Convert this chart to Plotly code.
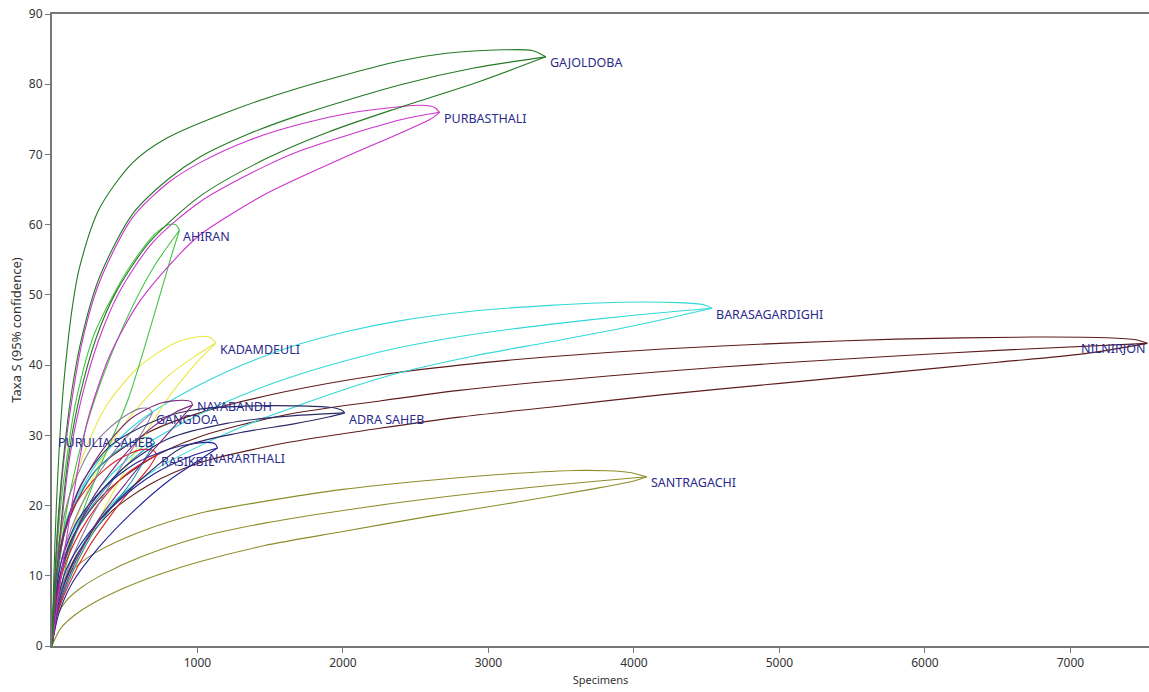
import plotly.graph_objects as go

# ---------------- data ----------------
SITES = ["GAJOLDOBA", "PURBASTHALI", "AHIRAN", "KADAMDEULI", "BARASAGARDIGHI",
         "NILNIRJON", "NAYABANDH", "GANGDOA", "ADRA SAHEB", "PURULIA SAHEB",
         "RASIKBIL", "NARARTHALI", "SANTRAGACHI"]
END_N = [3394, 2664, 876, 1125, 4535, 7528, 966, 690, 2012, 705, 720, 1138, 4088]
END_S = [83.9, 76.0, 59.2, 43.1, 48.1, 43.1, 34.3, 33.2, 33.2, 28.9, 27.2, 28.2, 24.1]

GAJOLDOBA_UPPER = [(0, 0), (10, 8), (30, 20), (71, 35), (106, 42.6), (140, 48.3), (188, 53.8), (326, 62.3),
                   (553, 68.8), (787, 72.3), (1241, 76.3), (1702, 79.5), (2389, 83.3), (2712, 84.4),
                   (3100, 84.9), (3300, 84.8), (3394, 83.9)]
GAJOLDOBA_MID = [(0, 0), (15, 8), (45, 19), (85, 28), (130, 35.5), (200, 43.5), (326, 52.5), (553, 61.5),
                 (800, 66.5), (1014, 69.6), (1350, 72.9), (1702, 75.6), (2389, 79.9), (2900, 82.3), (3394, 83.9)]
GAJOLDOBA_LOWER = [(0, 0), (20, 7), (60, 17), (110, 26.5), (190, 35.5), (306, 44), (443, 50.5), (670, 57.5),
                   (1014, 64), (1462, 69.3), (1900, 73.2), (2389, 76.7), (2940, 80.4), (3394, 83.9)]

PURBASTHALI_UPPER = [(0, 0), (15, 7.5), (45, 18), (90, 28), (140, 35.5), (209, 43.5), (326, 51.8), (553, 61),
                     (800, 66), (1014, 68.8), (1350, 72), (1702, 74.3), (2050, 75.9), (2389, 76.8),
                     (2540, 77.0), (2630, 76.7), (2664, 76.0)]
PURBASTHALI_MID = [(0, 0), (20, 6.5), (60, 16), (115, 26), (200, 35), (320, 43.5), (460, 50.3), (690, 57.4),
                   (1014, 63.2), (1462, 68.3), (1702, 70.5), (2389, 74.9), (2664, 76.0)]
PURBASTHALI_LOWER = [(0, 0), (30, 5), (90, 14), (160, 23), (243, 32), (400, 41.5), (600, 49), (863, 55.5),
                     (1014, 58.5), (1462, 64.3), (2000, 69.5), (2389, 73.0), (2600, 75.0), (2664, 76.0)]

AHIRAN_UPPER = [(0, 0), (20, 9), (60, 20), (110, 28), (166, 35), (292, 44.5), (519, 53.5), (700, 58.5),
                (800, 60), (850, 60), (876, 59.2)]
AHIRAN_MID = [(0, 0), (30, 8), (90, 18), (180, 27), (300, 35.5), (500, 46), (700, 54), (876, 59.2)]
AHIRAN_LOWER = [(0, 0), (40, 6), (130, 14), (300, 24), (521, 35), (700, 47), (820, 55.5), (876, 59.2)]

KADAMDEULI_UPPER = [(0, 0), (30, 10), (100, 20), (250, 29), (382, 34.5), (600, 39.8), (850, 43.2),
                    (1040, 44.1), (1100, 43.8), (1125, 43.1)]
KADAMDEULI_MID = [(0, 0), (50, 9), (150, 17), (350, 27), (550, 33), (800, 38.5), (1000, 41.5), (1125, 43.1)]
KADAMDEULI_LOWER = [(0, 0), (70, 7), (250, 15), (500, 25), (787, 35), (1000, 40.5), (1125, 43.1)]

BARASAGARDIGHI_UPPER = [(0, 0), (30, 10), (100, 18), (326, 26.5), (600, 32), (1015, 37.2), (1400, 40.8),
                        (1702, 43), (2050, 44.9), (2389, 46.3), (2900, 47.7), (3421, 48.5), (3900, 48.95),
                        (4300, 48.9), (4480, 48.6), (4535, 48.1)]
BARASAGARDIGHI_MID = [(0, 0), (40, 8), (120, 15), (326, 22.5), (600, 28), (1015, 33), (1400, 36.5),
                      (1702, 38.7), (2050, 40.8), (2389, 42.5), (2900, 44.4), (3421, 45.8), (4000, 47.1),
                      (4535, 48.1)]
BARASAGARDIGHI_LOWER = [(0, 0), (60, 7), (200, 14), (400, 20), (700, 25), (1015, 28.5), (1400, 32),
                        (1702, 34.3), (2050, 36.8), (2389, 38.9), (2900, 41.3), (3421, 43.3), (4000, 45.6),
                        (4535, 48.1)]

NILNIRJON_UPPER = [(0, 0), (30, 9), (100, 17), (300, 25), (671, 30.5), (1015, 33.2), (1600, 36.2),
                   (2252, 38.6), (2800, 40), (3421, 41.2), (4200, 42.3), (5003, 43.1), (5800, 43.7),
                   (6743, 44.0), (7250, 43.9), (7450, 43.6), (7528, 43.1)]
NILNIRJON_MID = [(0, 0), (40, 8), (130, 15), (350, 21.5), (671, 26.6), (1015, 29.8), (1600, 32.9),
                 (2252, 34.9), (2800, 36.4), (3421, 37.7), (4200, 39.1), (5003, 40.3), (5800, 41.3),
                 (6500, 42.1), (7528, 43.1)]
NILNIRJON_LOWER = [(0, 0), (50, 7), (170, 13), (400, 19), (671, 23), (1015, 26.1), (1600, 28.9),
                   (2252, 31), (2800, 32.6), (3421, 34), (4200, 35.8), (5003, 37.4), (5800, 39),
                   (6500, 40.4), (7087, 41.6), (7528, 43.1)]

NAYABANDH_UPPER = [(0, 0), (20, 8), (70, 15), (180, 22), (350, 28), (550, 32.5), (750, 34.6), (900, 35),
                   (955, 34.8), (966, 34.3)]
NAYABANDH_MID = [(0, 0), (30, 7), (100, 13), (250, 20), (450, 26), (650, 30.5), (850, 33.3), (966, 34.3)]
NAYABANDH_LOWER = [(0, 0), (45, 5.5), (140, 11), (320, 18), (520, 23.5), (700, 28), (850, 31.5), (966, 34.3)]

GANGDOA_UPPER = [(0, 0), (15, 8), (50, 15), (130, 22), (280, 28.5), (450, 32), (600, 33.8), (670, 33.8),
                 (690, 33.2)]
GANGDOA_MID = [(0, 0), (25, 7), (80, 13.5), (200, 20), (350, 25.5), (500, 29.5), (620, 32), (690, 33.2)]
GANGDOA_LOWER = [(0, 0), (35, 5.5), (110, 11), (250, 17.5), (400, 23), (550, 28), (650, 31.5), (690, 33.2)]

ADRA_SAHEB_UPPER = [(0, 0), (25, 9), (80, 16), (200, 23), (400, 28.5), (700, 32), (967, 33.6), (1400, 34.2),
                    (1908, 34), (1990, 33.6), (2012, 33.2)]
ADRA_SAHEB_MID = [(0, 0), (35, 8), (110, 14), (280, 20.5), (500, 25.5), (800, 29.5), (1200, 31.7),
                  (1600, 32.7), (2012, 33.2)]
ADRA_SAHEB_LOWER = [(0, 0), (50, 6.5), (150, 12), (350, 18.5), (600, 23.5), (898, 28.3), (1300, 30.4),
                    (1654, 31.6), (1900, 32.6), (2012, 33.2)]

PURULIA_SAHEB_UPPER = [(0, 0), (15, 7), (50, 13), (130, 19), (280, 24.5), (450, 27.8), (600, 29.5),
                       (680, 29.6), (705, 28.9)]
PURULIA_SAHEB_MID = [(0, 0), (25, 6), (80, 11.5), (200, 17.5), (350, 22), (500, 25.5), (620, 27.7), (705, 28.9)]
PURULIA_SAHEB_LOWER = [(0, 0), (35, 4.5), (110, 9), (250, 15), (400, 19.5), (550, 23.5), (650, 27), (705, 28.9)]

RASIKBIL_UPPER = [(0, 0), (15, 7), (50, 13), (130, 19), (280, 23.5), (450, 26.5), (620, 28), (700, 27.8),
                  (720, 27.2)]
RASIKBIL_MID = [(0, 0), (25, 5.5), (80, 11), (200, 16.5), (350, 21), (500, 24.3), (640, 26.3), (720, 27.2)]
RASIKBIL_LOWER = [(0, 0), (35, 4.5), (110, 8.5), (250, 14), (400, 18.5), (550, 22.5), (670, 25.5), (720, 27.2)]

NARARTHALI_UPPER = [(0, 0), (20, 6.5), (70, 12.5), (180, 18), (380, 23), (600, 26.3), (850, 28.3),
                    (1050, 29), (1120, 28.8), (1138, 28.2)]
NARARTHALI_MID = [(0, 0), (30, 5.5), (100, 11), (250, 16), (450, 20.5), (700, 24.5), (950, 27), (1138, 28.2)]
NARARTHALI_LOWER = [(0, 0), (45, 4.5), (140, 9), (320, 14), (550, 19), (800, 23.5), (1000, 26.3), (1138, 28.2)]

SANTRAGACHI_UPPER = [(0, 0), (5, 2.5), (20, 5.5), (60, 8.5), (150, 11), (300, 13.3), (600, 16.2),
                     (1014, 18.9), (1461, 20.6), (2000, 22.3), (2600, 23.6), (3200, 24.6), (3600, 25.0),
                     (3820, 24.95), (3970, 24.7), (4088, 24.1)]
SANTRAGACHI_MID = [(0, 0), (10, 2), (40, 4.5), (100, 6.5), (200, 8.3), (350, 10.2), (600, 12.6),
                   (1014, 15.5), (1461, 17.5), (2000, 19.3), (2600, 21), (3200, 22.4), (3700, 23.4), (4088, 24.1)]
SANTRAGACHI_LOWER = [(0, 0), (20, 1), (60, 2.5), (150, 4.3), (300, 6.3), (500, 8.3), (750, 10.3),
                     (1014, 12), (1461, 14.3), (2000, 16.3), (2600, 18.5), (3200, 20.5), (3700, 22.3),
                     (4000, 23.5), (4088, 24.1)]

X_TICKS = [1000, 2000, 3000, 4000, 5000, 6000, 7000]
Y_TICKS = [0, 10, 20, 30, 40, 50, 60, 70, 80, 90]

# ---------------- styling ----------------
COLORS = {
    "GAJOLDOBA": "#237a23", "PURBASTHALI": "#cc33cc", "AHIRAN": "#44c444",
    "KADAMDEULI": "#e8e840", "BARASAGARDIGHI": "#33d8d8", "NILNIRJON": "#5e1c1c",
    "NAYABANDH": "#7a2a7a", "GANGDOA": "#8c7f99", "ADRA SAHEB": "#2b2b66",
    "PURULIA SAHEB": "#2299bb", "RASIKBIL": "#dd2222", "NARARTHALI": "#22229a",
    "SANTRAGACHI": "#8c8c2a",
}
CURVES = {
    "GAJOLDOBA": (GAJOLDOBA_UPPER, GAJOLDOBA_MID, GAJOLDOBA_LOWER),
    "PURBASTHALI": (PURBASTHALI_UPPER, PURBASTHALI_MID, PURBASTHALI_LOWER),
    "AHIRAN": (AHIRAN_UPPER, AHIRAN_MID, AHIRAN_LOWER),
    "KADAMDEULI": (KADAMDEULI_UPPER, KADAMDEULI_MID, KADAMDEULI_LOWER),
    "BARASAGARDIGHI": (BARASAGARDIGHI_UPPER, BARASAGARDIGHI_MID, BARASAGARDIGHI_LOWER),
    "NILNIRJON": (NILNIRJON_UPPER, NILNIRJON_MID, NILNIRJON_LOWER),
    "NAYABANDH": (NAYABANDH_UPPER, NAYABANDH_MID, NAYABANDH_LOWER),
    "GANGDOA": (GANGDOA_UPPER, GANGDOA_MID, GANGDOA_LOWER),
    "ADRA SAHEB": (ADRA_SAHEB_UPPER, ADRA_SAHEB_MID, ADRA_SAHEB_LOWER),
    "PURULIA SAHEB": (PURULIA_SAHEB_UPPER, PURULIA_SAHEB_MID, PURULIA_SAHEB_LOWER),
    "RASIKBIL": (RASIKBIL_UPPER, RASIKBIL_MID, RASIKBIL_LOWER),
    "NARARTHALI": (NARARTHALI_UPPER, NARARTHALI_MID, NARARTHALI_LOWER),
    "SANTRAGACHI": (SANTRAGACHI_UPPER, SANTRAGACHI_MID, SANTRAGACHI_LOWER),
}
# label placement relative to the curve end (pixels): (anchor, xshift, yshift)
LABEL_PLACE = {
    "PURULIA SAHEB": ("right", 0, 1),
    "NILNIRJON": ("right", 0, -5),
    "NAYABANDH": ("left", 2, -1),
    "GANGDOA": ("left", 2, -7),
    "NARARTHALI": ("left", -11, -11),
    "ADRA SAHEB": ("left", 2, -7),
}

fig = go.Figure()
draw_order = ["SANTRAGACHI", "NILNIRJON", "BARASAGARDIGHI", "KADAMDEULI", "AHIRAN", "PURULIA SAHEB",
              "RASIKBIL", "GANGDOA", "NARARTHALI", "ADRA SAHEB", "NAYABANDH", "PURBASTHALI", "GAJOLDOBA"]
for site in draw_order:
    for curve in CURVES[site]:
        xs = [p[0] for p in curve]
        ys = [p[1] for p in curve]
        fig.add_trace(go.Scatter(
            x=xs, y=ys, mode="lines",
            line=dict(color=COLORS[site], width=1.1, shape="spline", smoothing=0.8),
            showlegend=False, hoverinfo="skip"))

label_font = dict(family="Noto Sans, Open Sans, sans-serif", size=12.5, color="#2b2b8c")
for site, n, s in zip(SITES, END_N, END_S):
    anchor, dx, dy = LABEL_PLACE.get(site, ("left", 2, -6))
    fig.add_annotation(x=n, y=s, text=site, showarrow=False, xanchor=anchor,
                       yanchor="middle", xshift=dx, yshift=dy, font=label_font)

tick_font = dict(family="Noto Sans, Open Sans, sans-serif", size=12, color="#333333")
xtitle_font = dict(family="Noto Sans, Open Sans, sans-serif", size=11, color="#333333")
ytitle_font = dict(family="Noto Sans, Open Sans, sans-serif", size=13, color="#333333")
fig.update_layout(
    width=1149, height=692,
    margin=dict(l=52, r=0, t=14, b=46),
    paper_bgcolor="white", plot_bgcolor="white",
    xaxis=dict(range=[0, 7540], tickvals=X_TICKS, ticktext=[str(v) for v in X_TICKS],
               showgrid=False, zeroline=False, showline=True, linecolor="#777777", linewidth=2,
               mirror=True, ticks="outside", ticklen=5, tickcolor="#777777",
               title=dict(text="Specimens", standoff=6, font=xtitle_font), tickfont=tick_font),
    yaxis=dict(range=[0, 90], tickvals=Y_TICKS, ticktext=[str(v) for v in Y_TICKS],
               showgrid=False, zeroline=False, showline=True, linecolor="#777777", linewidth=2,
               ticks="outside", ticklen=5, tickcolor="#777777",
               title=dict(text="Taxa S (95% confidence)", standoff=4, font=ytitle_font), tickfont=tick_font),
)
fig.write_html("out.html")
